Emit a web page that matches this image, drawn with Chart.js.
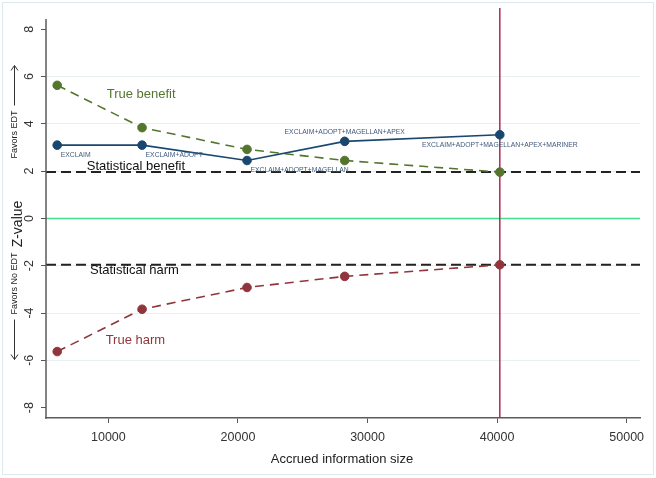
<!DOCTYPE html>
<html><head><meta charset="utf-8">
<script src="https://cdn.jsdelivr.net/npm/chart.js@4/dist/chart.umd.min.js"></script>
<style>html,body{margin:0;padding:0;background:#fff}#wrap{width:656px;height:478px;position:relative}</style>
</head><body><div id="wrap"><canvas id="c" width="656" height="478"></canvas></div>
<script>
// ---- data ----
const infoSize = [6050, 12600, 20700, 28240, 40210];
const trialLabels = ['EXCLAIM', 'EXCLAIM+ADOPT', 'EXCLAIM+ADOPT+MAGELLAN', 'EXCLAIM+ADOPT+MAGELLAN+APEX', 'EXCLAIM+ADOPT+MAGELLAN+APEX+MARINER'];
const zCumulative = [3.10, 3.10, 2.45, 3.26, 3.54];
const benefitBoundary = [5.63, 3.84, 2.92, 2.45, 1.96];
const harmBoundary = [-5.63, -3.84, -2.92, -2.45, -1.96];
const requiredInfoSize = 40210;
const conventionalZ = 1.96;
const xTicks = [10000, 20000, 30000, 40000, 50000];
const yTicks = [-8, -6, -4, -2, 0, 2, 4, 6, 8];

const FONT = "'Liberation Sans', Arial, Helvetica, sans-serif";
const NAVY = '#1a476f', GREEN = '#55752f', MAROON = '#90353b';

function pts(ys) { return infoSize.map((x, i) => ({ x: x, y: ys[i] })); }

const annotations = [
  { text: 'True benefit', x: 9870, y: 5.25, color: GREEN },
  { text: 'Statistical benefit', x: 8330, y: 2.22, color: '#111' },
  { text: 'Statistical harm', x: 8580, y: -2.21, color: '#111' },
  { text: 'True harm', x: 9790, y: -5.17, color: MAROON }
];

const deco = {
  id: 'deco',
  beforeDatasetsDraw(chart) {
    const { ctx, chartArea: a, scales: { x, y } } = chart;
    ctx.save();
    let py = y.getPixelForValue(0);
    ctx.strokeStyle = '#45e08e'; ctx.lineWidth = 1.5; ctx.setLineDash([]);
    ctx.beginPath(); ctx.moveTo(a.left, py); ctx.lineTo(a.right, py); ctx.stroke();
    ctx.strokeStyle = '#222'; ctx.lineWidth = 2; ctx.setLineDash([10, 5]);
    [conventionalZ, -conventionalZ].forEach(v => {
      const p = y.getPixelForValue(v);
      ctx.beginPath(); ctx.moveTo(a.left, p); ctx.lineTo(a.right, p); ctx.stroke();
    });
    ctx.setLineDash([]);
    const px = x.getPixelForValue(requiredInfoSize);
    ctx.strokeStyle = '#b02a4e'; ctx.lineWidth = 1.5;
    ctx.beginPath(); ctx.moveTo(px, a.top); ctx.lineTo(px, a.bottom); ctx.stroke();
    ctx.strokeStyle = '#5a5a5a'; ctx.lineWidth = 1.5;
    ctx.beginPath(); ctx.moveTo(a.left, y.getPixelForValue(8.43)); ctx.lineTo(a.left, a.bottom + 0.75); ctx.stroke();
    ctx.restore();
  },
  afterDatasetsDraw(chart) {
    const { ctx, scales: { x, y } } = chart;
    ctx.save();
    const place = ['br', 'br', 'br', 't', 'b'];
    ctx.font = '6.8px ' + FONT; ctx.fillStyle = '#3f5a7c'; ctx.textBaseline = 'middle';
    trialLabels.forEach((t, i) => {
      const px = x.getPixelForValue(infoSize[i]), py = y.getPixelForValue(zCumulative[i]);
      if (place[i] === 'br') { ctx.textAlign = 'left'; ctx.fillText(t, px + 3.5, py + 10); }
      else if (place[i] === 't') { ctx.textAlign = 'center'; ctx.fillText(t, px, py - 9.5); }
      else { ctx.textAlign = 'center'; ctx.fillText(t, px, py + 10.5); }
    });
    ctx.font = '13px ' + FONT; ctx.textAlign = 'left';
    annotations.forEach(an => {
      ctx.fillStyle = an.color;
      ctx.fillText(an.text, x.getPixelForValue(an.x), y.getPixelForValue(an.y));
    });
    ctx.restore();
  },
  afterDraw(chart) {
    const { ctx, scales: { y } } = chart;
    ctx.save();
    ctx.fillStyle = '#333'; ctx.font = '12.5px ' + FONT;
    ctx.textAlign = 'center'; ctx.textBaseline = 'middle';
    yTicks.forEach(v => {
      ctx.save();
      ctx.translate(29.5, y.getPixelForValue(v));
      ctx.rotate(-Math.PI / 2);
      ctx.fillText(String(v), 0, 0);
      ctx.restore();
    });
    ctx.save();
    ctx.translate(18.5, 224); ctx.rotate(-Math.PI / 2);
    ctx.font = '14px ' + FONT; ctx.fillStyle = '#222';
    ctx.fillText('Z-value', 0, 0);
    ctx.restore();
    function favors(text, cx, cy, arrowAfter) {
      ctx.save();
      ctx.translate(cx, cy); ctx.rotate(-Math.PI / 2);
      ctx.font = '9px ' + FONT; ctx.fillStyle = '#222';
      const w = ctx.measureText(text).width, gap = 5, al = 40;
      const total = w + gap + al;
      let tx, ax0;
      if (arrowAfter) { tx = -total / 2; ax0 = tx + w + gap; }
      else { ax0 = -total / 2; tx = ax0 + al + gap; }
      ctx.textAlign = 'left';
      ctx.fillText(text, tx, 0);
      ctx.strokeStyle = '#333'; ctx.lineWidth = 1;
      ctx.beginPath(); ctx.moveTo(ax0, 0); ctx.lineTo(ax0 + al, 0); ctx.stroke();
      ctx.beginPath();
      if (arrowAfter) { ctx.moveTo(ax0 + al - 5, -3.5); ctx.lineTo(ax0 + al, 0); ctx.lineTo(ax0 + al - 5, 3.5); }
      else { ctx.moveTo(ax0 + 5, -3.5); ctx.lineTo(ax0, 0); ctx.lineTo(ax0 + 5, 3.5); }
      ctx.stroke();
      ctx.restore();
    }
    favors('Favors EDT', 14.5, 112, true);
    favors('Favors No EDT', 14.5, 306, false);
    ctx.font = '13px ' + FONT; ctx.fillStyle = '#222';
    ctx.textAlign = 'center'; ctx.textBaseline = 'middle';
    ctx.fillText('Accrued information size', 342, 459);
    ctx.strokeStyle = '#dde9ed'; ctx.lineWidth = 1;
    ctx.strokeRect(2.5, 2.5, 651, 472);
    ctx.restore();
  }
};

new Chart(document.getElementById('c'), {
  type: 'line',
  data: {
    datasets: [
      { data: pts(zCumulative), borderColor: NAVY, backgroundColor: NAVY, borderWidth: 1.6,
        pointRadius: 4.3, pointBorderWidth: 1, pointBackgroundColor: NAVY, pointBorderColor: NAVY, tension: 0 },
      { data: pts(benefitBoundary), borderColor: GREEN, backgroundColor: GREEN, borderWidth: 1.6, borderDash: [9, 6],
        pointRadius: 4.3, pointBorderWidth: 1, pointBackgroundColor: GREEN, pointBorderColor: GREEN, tension: 0 },
      { data: pts(harmBoundary), borderColor: MAROON, backgroundColor: MAROON, borderWidth: 1.6, borderDash: [9, 6],
        pointRadius: 4.3, pointBorderWidth: 1, pointBackgroundColor: MAROON, pointBorderColor: MAROON, tension: 0 }
    ]
  },
  options: {
    responsive: false, animation: false,
    layout: { padding: { top: 8, right: 16, left: 0, bottom: 0 } },
    plugins: { legend: { display: false }, tooltip: { enabled: false } },
    scales: {
      x: {
        type: 'linear', min: 5185, max: 51030,
        afterBuildTicks: s => { s.ticks = xTicks.map(v => ({ value: v })); },
        afterFit: s => { s.height = 60; },
        grid: { display: true, drawOnChartArea: false, drawTicks: true, tickLength: 5, tickColor: '#555', tickWidth: 1 },
        border: { display: true, color: '#5a5a5a', width: 1.5 },
        ticks: { color: '#333', font: { family: FONT, size: 12.5 }, padding: 7, maxRotation: 0, autoSkip: false,
                 callback: v => String(v) }
      },
      y: {
        type: 'linear', min: -8.44, max: 8.9,
        afterBuildTicks: s => { s.ticks = yTicks.map(v => ({ value: v })); },
        afterFit: s => { s.width = 46; },
        grid: { drawTicks: true, tickLength: 5, tickColor: '#555', tickWidth: 1,
                color: c => (c.tick && (Math.abs(c.tick.value) === 8 || c.tick.value === 0)) ? 'rgba(0,0,0,0)' : '#e8f0f2',
                lineWidth: 1 },
        border: { display: false },
        ticks: { display: false }
      }
    }
  },
  plugins: [deco]
});
</script>
</body></html>
